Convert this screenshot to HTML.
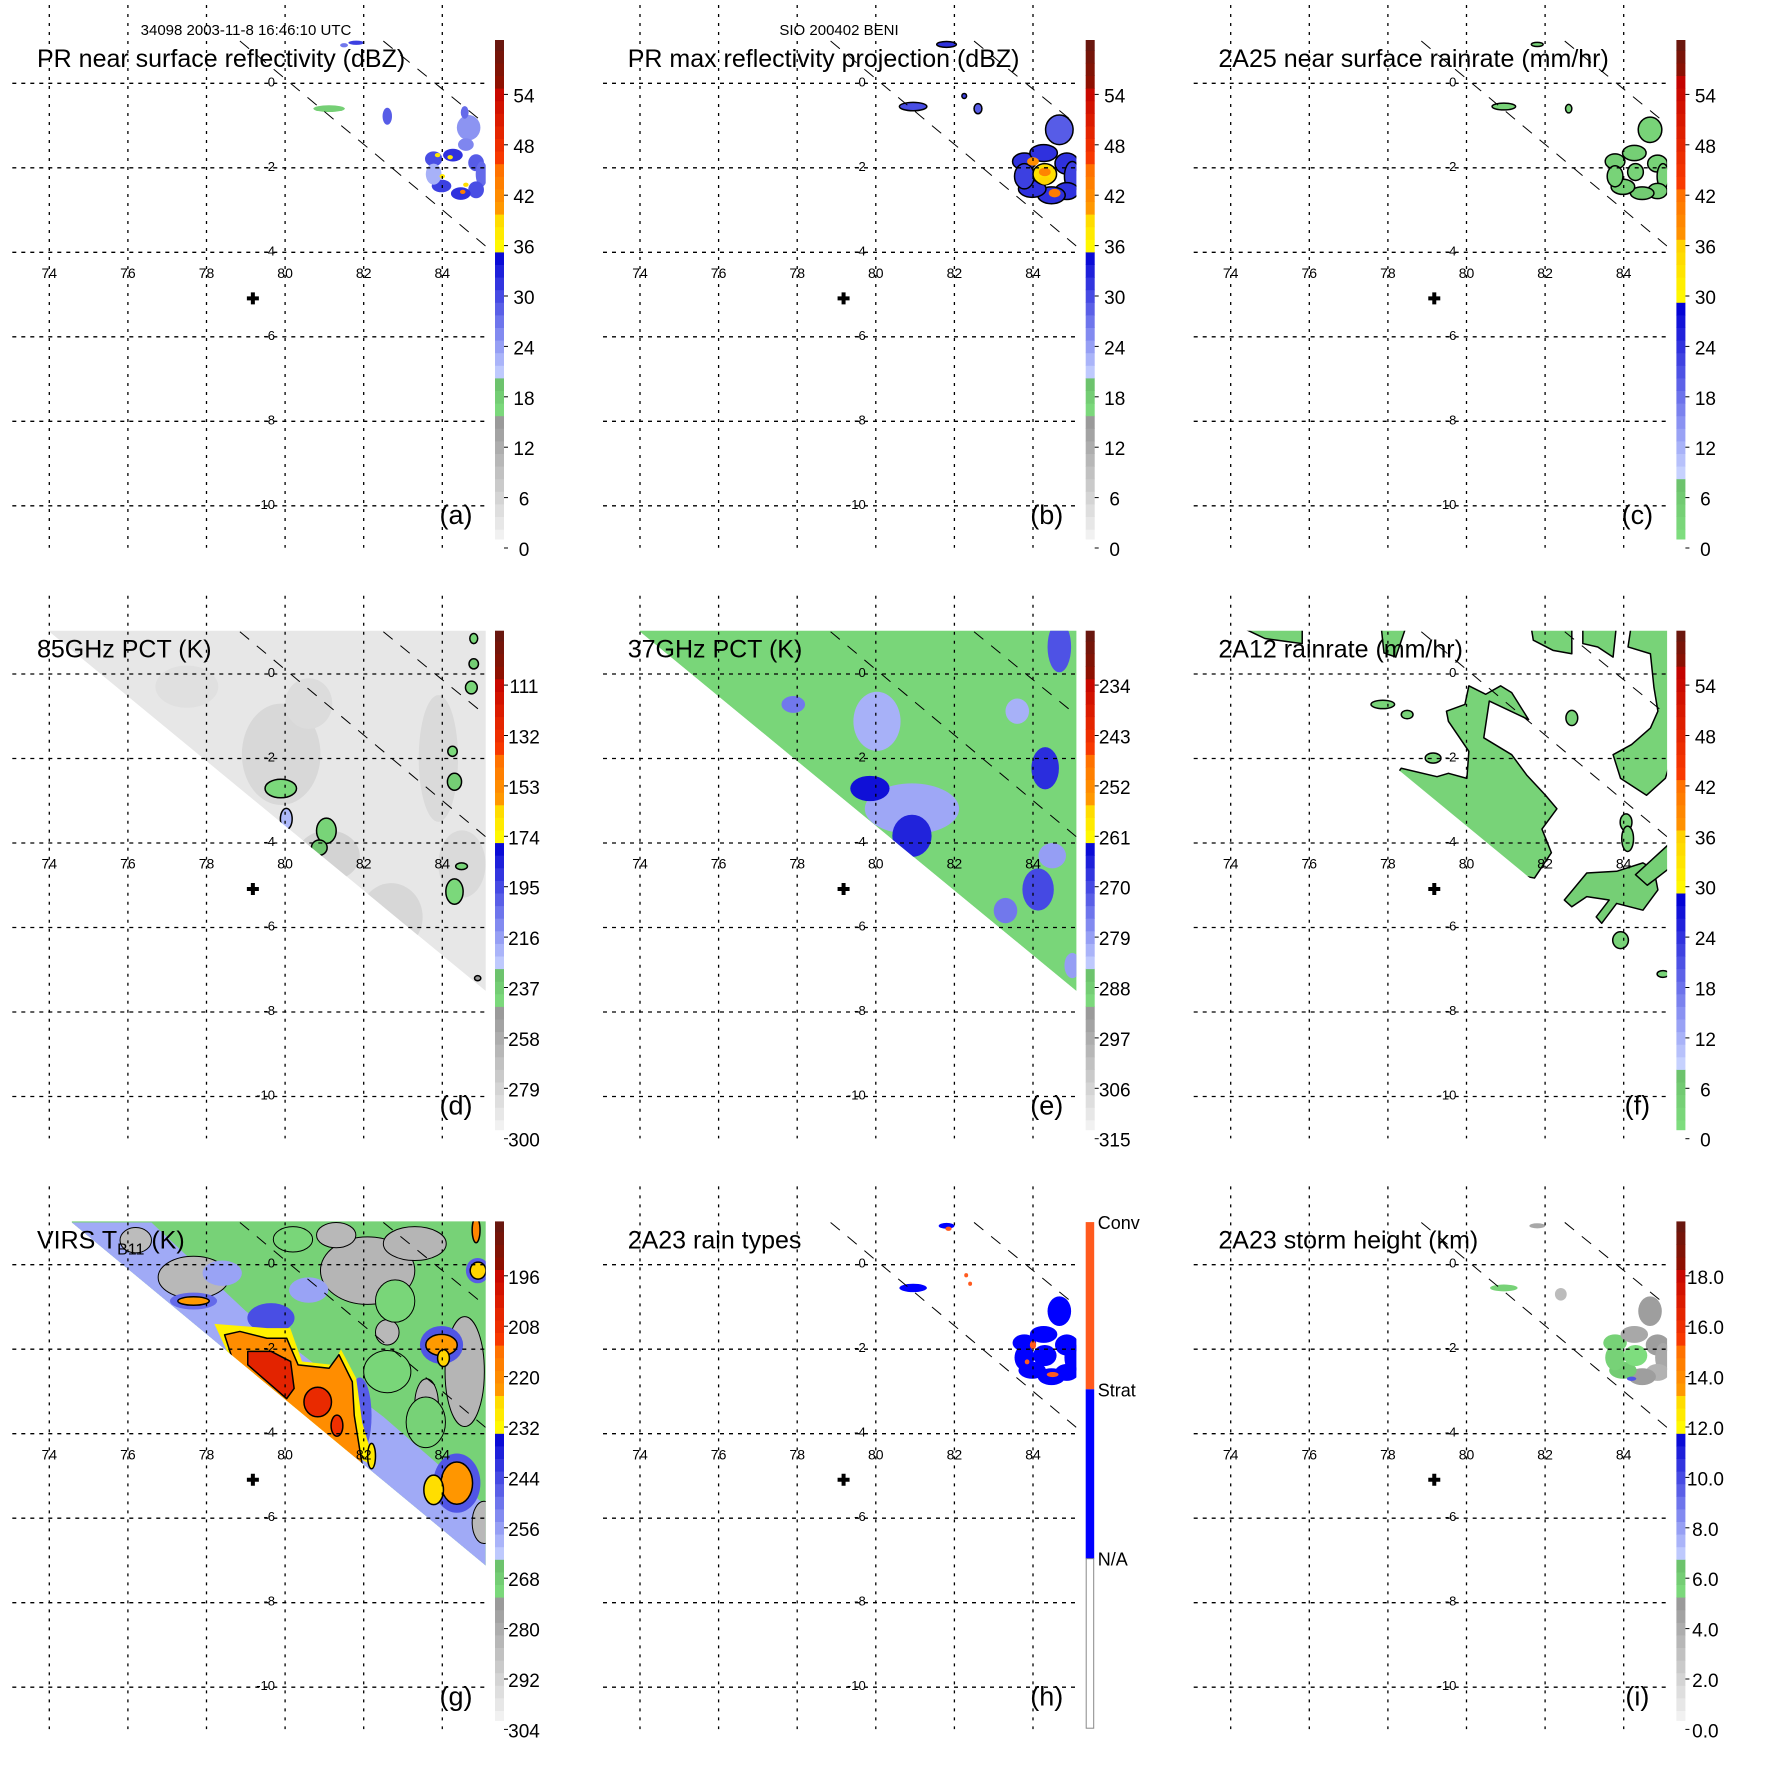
<!DOCTYPE html>
<html><head><meta charset="utf-8">
<style>
html,body{margin:0;padding:0;background:#fff;}
#fig{position:relative;width:1771px;height:1771px;overflow:hidden;font-family:"Liberation Sans",Arial,sans-serif;}
svg text{font-family:"Liberation Sans",Arial,sans-serif;}
</style></head>
<body>
<div id="fig">
<svg id="svg" width="1771" height="1771" viewBox="0 0 1771 1771" xmlns="http://www.w3.org/2000/svg">
<text x="246" y="35" font-size="15" text-anchor="middle">34098 2003-11-8 16:46:10 UTC</text>
<text x="839" y="35" font-size="15" text-anchor="middle">SIO 200402 BENI</text>
</svg>
</div>
<script>
// ---------------- axis data ----------------
const lonTicks=[74,76,78,80,82,84];
const latTicks=[0,-2,-4,-6,-8,-10];
const centerLon=79.18, centerLat=-5.09;
const prLine1Lon=[78.85,85.1], prLine1Lat=[1.0,-3.85];
const prLine2Lon=[82.5,85.1], prLine2Lat=[1.0,-0.97];
const tmiSwathLon=[74.0,85.1,85.1], tmiSwathLat=[1.0,1.0,-7.5];
const virsSwathLon=[74.57,85.1,85.1], virsSwathLat=[1.0,1.0,-7.12];

const ticksA=['0','6','12','18','24','30','36','42','48','54'];
const ticksC=['0','6','12','18','24','30','36','42','48','54'];
const ticksD=['300','279','258','237','216','195','174','153','132','111'];
const ticksE=['315','306','297','288','279','270','261','252','243','234'];
const ticksG=['304','292','280','268','256','244','232','220','208','196'];
const ticksI=['0.0','2.0','4.0','6.0','8.0','10.0','12.0','14.0','16.0','18.0'];
const rainTypeLabels=['Conv','Strat','N/A'];

// (a)
const aLon=[84.67,84.57,83.78,84.27,84.86,85.0,84.86,84.47,83.98,83.78,84.6,82.6,81.12,81.81,81.5];
const aLat=[-1.05,-0.69,-1.79,-1.70,-1.88,-2.15,-2.52,-2.61,-2.43,-2.15,-1.45,-0.78,-0.6,0.96,0.9];
const aRx=[0.3,0.1,0.22,0.25,0.2,0.15,0.2,0.25,0.25,0.2,0.2,0.12,0.4,0.2,0.1];
const aRy=[0.3,0.15,0.18,0.15,0.2,0.3,0.2,0.15,0.15,0.25,0.15,0.2,0.08,0.05,0.05];
const aVal=[24,27,29,31,28,27,29,31,30,22,25,28,17,30,26];
const aHotLon=[83.88,84.52,84.2,84.6,84.0];
const aHotLat=[-1.7,-2.57,-1.75,-2.4,-2.2];
const aHotVal=[37,43,37,38,37];
// (b)
const bLon=[84.67,83.78,84.27,84.86,85.0,84.86,84.47,83.98,83.78,84.3,82.6,80.95,81.8,82.25];
const bLat=[-1.1,-1.85,-1.65,-1.9,-2.2,-2.55,-2.65,-2.5,-2.2,-2.15,-0.6,-0.55,0.92,-0.3];
const bRx=[0.35,0.3,0.35,0.3,0.2,0.3,0.35,0.35,0.25,0.3,0.1,0.35,0.25,0.06];
const bRy=[0.35,0.2,0.2,0.25,0.35,0.2,0.2,0.2,0.3,0.25,0.12,0.1,0.07,0.06];
const bVal=[28,31,31,31,30,31,31,31,30,38,28,29,31,30];
const bHotLon=[84.3,84.55,84.0,84.3];
const bHotLat=[-2.1,-2.6,-1.85,-2.3];
const bHotVal=[42,43,41,39];
// (c)
const cLon=[84.67,83.78,84.27,84.86,85.0,84.86,84.47,83.98,83.78,84.3,82.6,80.95,81.8];
const cLat=[-1.1,-1.85,-1.65,-1.9,-2.2,-2.55,-2.6,-2.45,-2.2,-2.1,-0.6,-0.55,0.92];
const cRx=[0.3,0.25,0.3,0.25,0.15,0.25,0.3,0.3,0.2,0.2,0.08,0.3,0.15];
const cRy=[0.3,0.18,0.18,0.2,0.3,0.18,0.15,0.18,0.25,0.2,0.1,0.08,0.05];
const cVal=[3,4,4,3,3,4,5,4,3,3,3,3,3];
// (d)
const dShadeLon=[79.9,81.1,82.7,80.6,83.9,84.5,77.5];
const dShadeLat=[-1.9,-4.3,-5.75,-0.7,-2.0,-4.5,-0.3];
const dShadeRx=[1.0,0.8,0.8,0.6,0.5,0.6,0.8];
const dShadeRy=[1.2,0.6,0.8,0.6,1.5,0.8,0.5];
const dShadeVal=[284,281,283,286,285,285,288];
const dLon=[79.89,80.03,81.05,80.87,84.31,84.26,84.74,84.31,84.49,84.8,84.8,84.9];
const dLat=[-2.71,-3.43,-3.71,-4.11,-2.55,-1.83,-0.32,-5.15,-4.55,0.84,0.24,-7.2];
const dRx=[0.4,0.15,0.25,0.2,0.18,0.12,0.15,0.22,0.15,0.1,0.12,0.08];
const dRy=[0.22,0.25,0.3,0.18,0.2,0.12,0.15,0.3,0.08,0.12,0.12,0.06];
const dVal=[245,225,243,235,240,245,244,245,243,244,240,251];
// (e)
const eLon=[80.92,80.03,77.9,84.49,83.6,80.92,79.85,84.31,84.67,84.13,83.3,85.0];
const eLat=[-3.19,-1.12,-0.72,-4.3,-0.88,-3.83,-2.71,-2.23,0.64,-5.1,-5.6,-6.9];
const eRx=[1.2,0.6,0.3,0.35,0.3,0.5,0.5,0.35,0.3,0.4,0.3,0.2];
const eRy=[0.6,0.7,0.2,0.3,0.3,0.5,0.3,0.5,0.6,0.5,0.3,0.3];
const eVal=[281,282,276,280,282,267,265,268,272,271,276,280];
// (f)
const fMainLon=[78.34,79.25,79.54,80.01,80.06,79.54,79.49,79.96,80.06,80.49,80.87,81.15,81.58,80.58,80.44,81.15,81.53,82.01,82.3,81.92,82.16,81.73,77.0];
const fMainLat=[-2.23,-2.43,-2.35,-2.47,-1.83,-1.12,-0.88,-0.72,-0.28,-0.48,-0.28,-0.44,-1.08,-0.64,-1.51,-1.91,-2.39,-2.87,-3.19,-3.67,-4.23,-4.83,-4.0];
const fRightLon=[83.73,83.92,84.58,85.06,85.3,85.3,84.2,84.11,84.68,84.77,84.87,84.68,84.2];
const fRightLat=[-1.91,-2.47,-2.87,-2.47,-1.75,1.2,1.2,0.64,0.48,-0.32,-0.88,-1.28,-1.67];
const fLowLon=[82.49,83.06,83.82,84.49,84.77,84.87,84.49,83.82,83.44,83.3,83.63,83.06,82.68];
const fLowLat=[-5.35,-4.71,-4.67,-4.47,-4.63,-5.11,-5.59,-5.43,-5.9,-5.75,-5.35,-5.27,-5.51];
const fEdgeLon=[84.3,85.3,85.3,84.6];
const fEdgeLat=[-4.75,-3.9,-4.5,-5.0];
const fTopLon=[82.96,83.82,83.73,83.34,82.96];
const fTopLat=[1.2,1.2,0.40,0.64,0.72];
const fTop2Lon=[81.63,82.68,82.68,82.2,81.7];
const fTop2Lat=[1.2,1.2,0.48,0.56,0.8];
const fTop3Lon=[74.06,75.82,75.82,74.87];
const fTop3Lat=[1.2,1.2,0.72,0.84];
const fTop4Lon=[77.82,78.49,78.2,77.9];
const fTop4Lat=[1.2,1.2,0.4,0.5];
const fBlobLon=[77.87,78.49,79.15,82.68,84.06,83.92,85.0,84.1];
const fBlobLat=[-0.72,-0.96,-1.99,-1.04,-3.51,-6.3,-7.1,-3.9];
const fBlobRx=[0.3,0.15,0.2,0.15,0.15,0.2,0.15,0.15];
const fBlobRy=[0.1,0.1,0.12,0.18,0.2,0.2,0.08,0.3];
const fBlobVal=[3,3,3,3,3,3,3,3];
const fMainVal=3, fRightVal=3, fLowVal=4;
// (g)
const gBgVal=271;
const gEdgeLon=[74.57,76.6,79.0,82.5,85.1,85.1];
const gEdgeLat=[1.0,1.0,-1.1,-3.6,-5.7,-7.12];
const gEdgeVal=259;
const gGrayLon=[77.67,82.1,84.57,85.06,76.2,83.3,81.3,83.6,82.6];
const gGrayLat=[-0.3,-0.14,-2.53,-6.1,0.58,0.5,0.7,-3.3,-1.6];
const gGrayRx=[0.9,1.2,0.5,0.3,0.4,0.8,0.5,0.3,0.3];
const gGrayRy=[0.5,0.8,1.3,0.5,0.3,0.4,0.3,0.6,0.3];
const gGrayVal=[285,284,284,285,286,284,285,284,285];
const gGreenLon=[82.8,82.6,83.58,80.2];
const gGreenLat=[-0.86,-2.53,-3.73,0.6];
const gGreenRx=[0.5,0.6,0.5,0.5];
const gGreenRy=[0.5,0.5,0.6,0.3];
const gGreenVal=[272,272,271,272];
const gBlueLon=[79.64,81.9,84.37,83.98,77.67,84.9,80.6,78.4];
const gBlueLat=[-1.26,-3.57,-5.17,-1.9,-0.86,-0.14,-0.6,-0.2];
const gBlueRx=[0.6,0.3,0.6,0.55,0.6,0.3,0.5,0.5];
const gBlueRy=[0.35,0.9,0.7,0.45,0.2,0.3,0.3,0.3];
const gBlueVal=[246,248,247,247,250,248,258,258];
const gYelLon=[78.2,79.54,80.13,80.43,81.22,81.42,81.81,81.96,82.3,79.0];
const gYelLat=[-1.4,-1.5,-1.5,-2.29,-2.37,-2.0,-2.69,-3.73,-4.8,-3.0];
const gYelVal=232;
const gOrLon=[78.46,78.85,79.54,80.04,80.33,81.12,81.37,81.71,81.76,81.96,79.0];
const gOrLat=[-1.66,-1.58,-1.74,-1.74,-2.37,-2.45,-2.13,-2.77,-3.57,-4.73,-3.2];
const gOrVal=222;
const gRedLon=[79.05,79.64,80.14,80.23,80.04,79.05];
const gRedLat=[-2.05,-2.05,-2.29,-2.93,-3.17,-2.37];
const gRedVal=206;
const gSpotLon=[80.83,81.32,84.37,83.78,83.98,84.03,84.91,84.86,77.67,82.2];
const gSpotLat=[-3.25,-3.81,-5.17,-5.33,-1.9,-2.21,-0.14,0.82,-0.86,-4.53];
const gSpotRx=[0.35,0.15,0.4,0.25,0.4,0.15,0.2,0.1,0.4,0.1];
const gSpotRy=[0.35,0.25,0.5,0.35,0.25,0.2,0.2,0.3,0.1,0.3];
const gSpotVal=[208,210,224,228,225,226,226,220,225,230];
// (h)
const hLon=[84.67,83.78,84.27,84.86,85.0,84.86,84.47,83.98,83.78,84.3,80.95,81.8];
const hLat=[-1.1,-1.85,-1.65,-1.9,-2.2,-2.55,-2.65,-2.5,-2.2,-2.15,-0.55,0.92];
const hRx=[0.3,0.3,0.35,0.3,0.2,0.3,0.35,0.35,0.25,0.3,0.35,0.2];
const hRy=[0.35,0.2,0.2,0.25,0.35,0.2,0.2,0.2,0.3,0.25,0.1,0.07];
const hType=[2,2,2,2,2,2,2,2,2,2,2,2];
const hConvLon=[84.0,84.5,81.85,82.3,82.4,83.85];
const hConvLat=[-1.9,-2.6,0.85,-0.25,-0.45,-2.3];
const hConvRx=[0.08,0.15,0.08,0.05,0.05,0.06];
const hConvRy=[0.1,0.06,0.05,0.05,0.05,0.06];
// (i)
const iLon=[84.67,83.78,84.27,84.86,85.0,84.86,84.47,83.98,83.78,84.3,80.95,82.4,81.8,84.2];
const iLat=[-1.1,-1.85,-1.65,-1.9,-2.2,-2.55,-2.65,-2.5,-2.2,-2.15,-0.55,-0.7,0.92,-2.7];
const iRx=[0.3,0.3,0.35,0.3,0.2,0.3,0.35,0.35,0.25,0.3,0.35,0.15,0.2,0.12];
const iRy=[0.35,0.2,0.2,0.25,0.35,0.2,0.2,0.2,0.3,0.25,0.08,0.15,0.06,0.05];
const iVal=[4.5,5.5,4.0,4.5,4.0,3.5,4.5,5.8,5.5,5.0,5.5,3.0,4.0,9.5];

// ---------------- geometry / helpers ----------------
const PITCH=590.7;
const DX0=12.3, DX1=485.7, DY0=40, DY1=547.7;
function X(lon){return 49.3+(lon-74)*39.3;}
function Y(lat){return 83.3-lat*42.25;}
const NS='http://www.w3.org/2000/svg';
const svg=document.getElementById('svg');
function mk(tag,attrs,parent){const e=document.createElementNS(NS,tag);for(const k in attrs)e.setAttribute(k,attrs[k]);(parent||svg).appendChild(e);return e;}

const PAL_A=[[0,14.5,[246,246,246],[152,152,152]],[14.5,19.5,[128,224,128],[106,190,106]],[19.5,34.5,[200,212,255],[0,0,212]],[34.5,39.5,[255,255,0],[255,208,0]],[39.5,44.5,[255,154,0],[255,112,0]],[44.5,54.5,[255,64,0],[192,0,0]],[54.5,61,[144,16,0],[90,26,20]]];
const PAL_C=[[0,8,[128,224,128],[106,190,106]],[8,28,[200,212,255],[0,0,212]],[28,35.5,[255,255,0],[255,208,0]],[35.5,41.5,[255,154,0],[255,112,0]],[41.5,55.5,[255,64,0],[192,0,0]],[55.5,61,[144,16,0],[90,26,20]]];
function palColor(pal,u){
  u=Math.max(0,Math.min(60.9,u));
  for(const s of pal){if(u>=s[0]&&u<s[1]){const t=(u-s[0])/(s[1]-s[0]);const c=s[2].map((v,i)=>Math.round(v+(s[3][i]-v)*t));return 'rgb('+c.join(',')+')';}}
  return 'rgb(90,26,20)';
}

const panels=[
 {id:'a',col:0,row:0,title:'PR near surface reflectivity (dBZ)',pal:PAL_A,v0:0,step:6,ticks:ticksA},
 {id:'b',col:1,row:0,title:'PR max reflectivity projection (dBZ)',pal:PAL_A,v0:0,step:6,ticks:ticksA},
 {id:'c',col:2,row:0,title:'2A25 near surface rainrate (mm/hr)',pal:PAL_C,v0:0,step:6,ticks:ticksC},
 {id:'d',col:0,row:1,title:'85GHz PCT (K)',pal:PAL_A,v0:300,step:-21,ticks:ticksD},
 {id:'e',col:1,row:1,title:'37GHz PCT (K)',pal:PAL_A,v0:315,step:-9,ticks:ticksE},
 {id:'f',col:2,row:1,title:'2A12 rainrate (mm/hr)',pal:PAL_C,v0:0,step:6,ticks:ticksC},
 {id:'g',col:0,row:2,title:'VIRS',pal:PAL_A,v0:304,step:-12,ticks:ticksG},
 {id:'h',col:1,row:2,title:'2A23 rain types',pal:null},
 {id:'i',col:2,row:2,title:'2A23 storm height (km)',pal:PAL_A,v0:0,step:2,ticks:ticksI}
];

function uOf(p,v){return (v-p.v0)/p.step*6;}
function col(p,v){return palColor(p.pal,uOf(p,v));}

function ellipses(g,p,lon,lat,rx,ry,val,name,stroke,sw){
  for(let k=0;k<lon.length;k++){
    const e=mk('ellipse',{cx:X(lon[k]),cy:Y(lat[k]),rx:rx[k]*39.3,ry:ry[k]*42.25,fill:col(p,val[k]),stroke:stroke||'none','stroke-width':sw||1.5},g);
    
    
  }
}
function poly(g,lon,lat,fill,name,stroke){
  const pts=lon.map((l,k)=>X(l)+','+Y(lat[k])).join(' ');
  const e=mk('polygon',{points:pts,fill:fill,stroke:stroke||'none','stroke-width':1.5,'stroke-linejoin':'round'},g);
  
  
  return e;
}

panels.forEach(p=>{
  const ox=p.col*PITCH, oy=p.row*PITCH;
  const g=mk('g',{transform:'translate('+ox+','+oy+')'});
  
  

  const cp=mk('clipPath',{id:'clip-'+p.id},g);
  mk('rect',{x:DX0,y:DY0,width:DX1-DX0,height:DY1-DY0},cp);
  const data=mk('g',{'clip-path':'url(#clip-'+p.id+')'},g);
  
  

  let swathClip=null;
  if('defg'.includes(p.id)){
    const sl=p.id==='g'?virsSwathLon:tmiSwathLon, sa=p.id==='g'?virsSwathLat:tmiSwathLat;
    const cp2=mk('clipPath',{id:'sw-'+p.id},g);
    const pts=[[X(sl[0]),Y(1.6)],[X(86),Y(1.6)],[X(86),Y(sa[2])],[X(sl[2]),Y(sa[2])],[X(sl[0]),Y(sa[0])]];
    mk('polygon',{points:pts.map(q=>q[0]+','+q[1]).join(' ')},cp2);
    swathClip=mk('g',{'clip-path':'url(#sw-'+p.id+')'},data);
    
    
  }
  const S=swathClip||data;
  const swathFill=(lonA,latA,fill,name)=>{
    const pts=[[X(lonA[0]),Y(1.6)],[X(86),Y(1.6)],[X(86),Y(latA[2])],[X(lonA[2]),Y(latA[2])],[X(lonA[0]),Y(latA[0])]];
    const e=mk('polygon',{points:pts.map(q=>q[0]+','+q[1]).join(' '),fill:fill},S);
    
    
  };

  if(p.id==='a'){
    ellipses(S,p,aLon,aLat,aRx,aRy,aVal,'reflectivity-cell');
    ellipses(S,p,aHotLon,aHotLat,aHotLon.map(()=>0.07),aHotLat.map(()=>0.05),aHotVal,'reflectivity-core');
  }
  if(p.id==='b'){
    ellipses(S,p,bLon,bLat,bRx,bRy,bVal,'max-reflectivity-cell','#000');
    ellipses(S,p,bHotLon,bHotLat,bHotLon.map(()=>0.15),bHotLat.map(()=>0.1),bHotVal,'max-reflectivity-core');
  }
  if(p.id==='c'){
    ellipses(S,p,cLon,cLat,cRx,cRy,cVal,'rainrate-cell','#000');
  }
  if(p.id==='d'){
    swathFill(tmiSwathLon,tmiSwathLat,col(p,292),'pct85-background');
    ellipses(S,p,dShadeLon,dShadeLat,dShadeRx,dShadeRy,dShadeVal,'pct85-depression');
    ellipses(S,p,dLon,dLat,dRx,dRy,dVal,'pct85-scattering-cell','#000');
  }
  if(p.id==='e'){
    swathFill(tmiSwathLon,tmiSwathLat,col(p,291),'pct37-background');
    ellipses(S,p,eLon,eLat,eRx,eRy,eVal,'pct37-cell');
  }
  if(p.id==='f'){
    const fill=v=>col(p,v);
    poly(S,fMainLon,fMainLat,fill(fMainVal),'rain-region-main','#000');
    poly(S,fRightLon,fRightLat,fill(fRightVal),'rain-region-east','#000');
    poly(S,fLowLon,fLowLat,fill(fLowVal),'rain-region-southeast','#000');
    poly(S,fEdgeLon,fEdgeLat,fill(fLowVal),'rain-region-edge','#000');
    poly(S,fTopLon,fTopLat,fill(3),'rain-region-north-1','#000');
    poly(S,fTop2Lon,fTop2Lat,fill(3),'rain-region-north-2','#000');
    poly(S,fTop3Lon,fTop3Lat,fill(3),'rain-region-north-3','#000');
    poly(S,fTop4Lon,fTop4Lat,fill(3),'rain-region-north-4','#000');
    ellipses(S,p,fBlobLon,fBlobLat,fBlobRx,fBlobRy,fBlobVal,'rain-blob','#000');
  }
  if(p.id==='g'){
    swathFill(virsSwathLon,virsSwathLat,col(p,gBgVal),'tb11-background');
    poly(S,gEdgeLon,gEdgeLat,col(p,gEdgeVal),'tb11-edge-band');
    ellipses(S,p,gGrayLon,gGrayLat,gGrayRx,gGrayRy,gGrayVal,'tb11-warm-region','#000',1);
    ellipses(S,p,gGreenLon,gGreenLat,gGreenRx,gGreenRy,gGreenVal,'tb11-mid-region','#000',1);
    ellipses(S,p,gBlueLon,gBlueLat,gBlueRx,gBlueRy,gBlueVal,'tb11-cool-region');
    poly(S,gYelLon,gYelLat,col(p,gYelVal),'tb11-cold-fringe');
    poly(S,gOrLon,gOrLat,col(p,gOrVal),'tb11-cold-cloud','#000');
    poly(S,gRedLon,gRedLat,col(p,gRedVal),'tb11-coldest-core','#000');
    ellipses(S,p,gSpotLon,gSpotLat,gSpotRx,gSpotRy,gSpotVal,'tb11-cold-spot','#000');
  }
  if(p.id==='h'){
    for(let k=0;k<hLon.length;k++){
      const e=mk('ellipse',{cx:X(hLon[k]),cy:Y(hLat[k]),rx:hRx[k]*39.3,ry:hRy[k]*42.25,fill:hType[k]===2?'#0000ff':'#ff5a1e'},S);
      
      
    }
    for(let k=0;k<hConvLon.length;k++){
      const e=mk('ellipse',{cx:X(hConvLon[k]),cy:Y(hConvLat[k]),rx:hConvRx[k]*39.3,ry:hConvRy[k]*42.25,fill:'#ff5a1e'},S);
      
      
    }
  }
  if(p.id==='i'){
    ellipses(S,p,iLon,iLat,iRx,iRy,iVal,'storm-height-cell');
  }

  lonTicks.forEach(l=>{
    const e=mk('line',{x1:X(l),x2:X(l),y1:DY0-35,y2:DY1,stroke:'#000','stroke-width':1.3,'stroke-dasharray':'3,6'},g);
    
    
    const t=mk('text',{x:X(l),y:278,'font-size':14,'text-anchor':'middle'},g);
    t.textContent=String(l);
    
    
  });
  latTicks.forEach(l=>{
    const e=mk('line',{x1:DX0,x2:DX1,y1:Y(l),y2:Y(l),stroke:'#000','stroke-width':1.3,'stroke-dasharray':'4,5'},g);
    
    
    const t=mk('text',{x:275,y:Y(l)+3,'font-size':13,'text-anchor':'end'},g);
    t.textContent=String(l);
    
    
  });
  [[prLine1Lon,prLine1Lat],[prLine2Lon,prLine2Lat]].forEach((ln,k)=>{
    const e=mk('line',{x1:X(ln[0][0]),y1:Y(ln[1][0]),x2:X(ln[0][1]),y2:Y(ln[1][1]),stroke:'#000','stroke-width':1,'stroke-dasharray':'12,10'},data);
    
    
  });
  const cx=X(centerLon), cy=Y(centerLat);
  const cr=mk('path',{d:'M'+(cx-6)+' '+cy+'H'+(cx+6)+'M'+cx+' '+(cy-6)+'V'+(cy+6),stroke:'#000','stroke-width':4},g);
  
  

  const tt=mk('text',{x:37,y:67,'font-size':25},g);
  if(p.id==='g'){
    tt.textContent='VIRS T';
    const sub=mk('tspan',{'font-size':16,dy:6},tt); sub.textContent='B11';
    const rest=mk('tspan',{dy:-6},tt); rest.textContent=' (K)';
  } else tt.textContent=p.title;
  
  
  const lt=mk('text',{x:456,y:524,'font-size':27,'text-anchor':'middle'},g);
  lt.textContent='('+p.id+')';
  
  

  const cb=mk('g',{},g);
  
  
  if(p.pal){
    for(let u=0.75;u<61;u+=1.5){
      const y1=Math.max(40,548-8.4*(u+1.5)), y2=Math.min(539,548-8.4*u);
      if(y2<=y1) continue;
      mk('rect',{x:495,y:y1,width:9,height:y2-y1+0.5,fill:palColor(p.pal,Math.floor(u/1.5)*1.5+0.75)},cb);
    }
    p.ticks.forEach((s,k)=>{
      const y=548-50.4*k;
      mk('line',{x1:504,x2:508,y1:y,y2:y,stroke:'#000','stroke-width':1},cb);
      const t=mk('text',{x:524,y:y+8,'font-size':19,'text-anchor':'middle'},cb);
      t.textContent=s;
      
      
    });
  } else {
    mk('rect',{x:495,y:40.7,width:8.5,height:167.2,fill:'#ff5a1e'},cb);
    mk('rect',{x:495,y:207.9,width:8.5,height:169.4,fill:'#0000ff'},cb);
    mk('rect',{x:495.5,y:377.3,width:7.5,height:169.5,fill:'#fff',stroke:'#888','stroke-width':1},cb);
    [40.7,207.9,377.3].forEach((y,k)=>{
      const t=mk('text',{x:507,y:y+7,'font-size':18},cb);
      t.textContent=rainTypeLabels[k];
      
      
    });
  }
});
</script>
</body></html>
